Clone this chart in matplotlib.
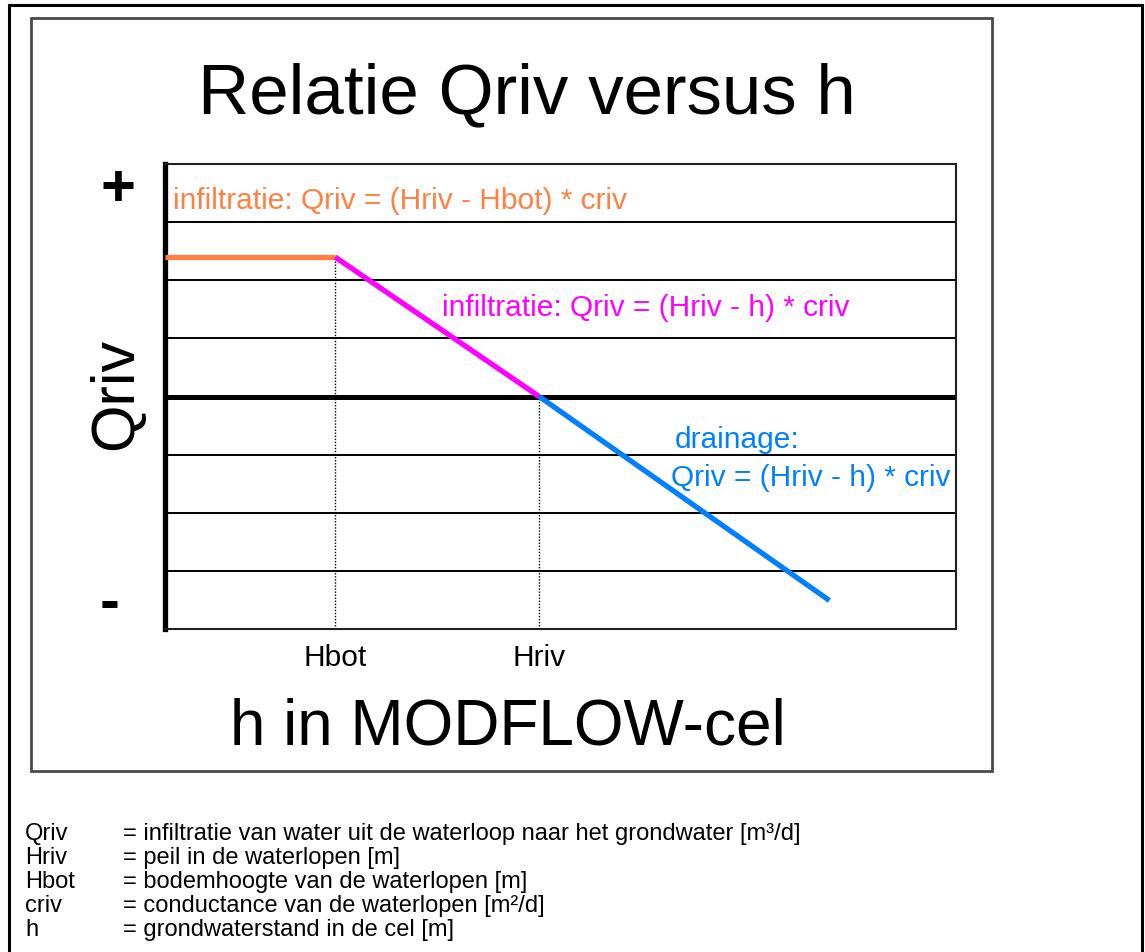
import matplotlib
matplotlib.use('Agg')
import matplotlib.pyplot as plt
from matplotlib.patches import Rectangle

W, H = 1145, 953

# ---- data ----
h_levels = [0.0, 2.15, 4.73, 8.40]
q_values = [2.40, 2.40, 0.0, -3.51]
segment_colors = ['#FF8040', '#FF00FF', '#0080FF']
tick_positions = [2.15, 4.73]
tick_labels = ['Hbot', 'Hriv']
grid_levels = [-3, -2, -1, 1, 2, 3]
annotations = [
    'infiltratie: Qriv = (Hriv - Hbot) * criv',
    'infiltratie: Qriv = (Hriv - h) * criv',
    'drainage:',
    'Qriv = (Hriv - h) * criv',
]
legend_symbols = ['Qriv', 'Hriv', 'Hbot', 'criv', 'h']
legend_texts = [
    '= infiltratie van water uit de waterloop naar het grondwater [m\u00b3/d]',
    '= peil in de waterlopen [m]',
    '= bodemhoogte van de waterlopen [m]',
    '= conductance van de waterlopen [m\u00b2/d]',
    '= grondwaterstand in de cel [m]',
]

plt.rcParams['font.family'] = ['Liberation Sans', 'DejaVu Sans']


def fx(px):
    return px / W


def fy(py):
    return 1 - py / H


fig = plt.figure(figsize=(W / 100, H / 100), dpi=100)

# outer and inner frames
fig.add_artist(Rectangle((fx(9), -0.1), (1142 - 9) / W, fy(5.5) + 0.1,
                         transform=fig.transFigure, fill=False,
                         edgecolor='black', lw=2.2, clip_on=False))
fig.add_artist(Rectangle((fx(31), fy(772)), (992 - 31) / W, (772 - 19) / H,
                         transform=fig.transFigure, fill=False,
                         edgecolor='#4a4a4a', lw=2.0))

ax = fig.add_axes([fx(165), fy(630), 791 / W, 465 / H])
ax.set_xlim(0, 10)
ax.set_ylim(-4, 4)
for side in ['top', 'right', 'bottom']:
    ax.spines[side].set_linewidth(1.5)
    ax.spines[side].set_color('#202020')
ax.spines['left'].set_linewidth(3.8)
ax.spines['left'].set_color('black')

for g in grid_levels:
    ax.axhline(g, color='black', lw=1.4, zorder=1)
ax.axhline(0, color='black', lw=3.6, zorder=1)

# dotted guides
ax.vlines(h_levels[1], -4, q_values[1], colors='black', lw=1.0,
          linestyles=(0, (1, 1.2)), zorder=2)
ax.vlines(h_levels[2], -4, q_values[2], colors='black', lw=1.0,
          linestyles=(0, (1, 1.2)), zorder=2)

for i, c in enumerate(segment_colors):
    ax.plot(h_levels[i:i + 2], q_values[i:i + 2], color=c, lw=3.8,
            solid_capstyle='butt', zorder=3)

ax.set_yticks([])
ax.set_xticks(tick_positions, tick_labels, fontsize=21.5)
ax.tick_params(axis='x', length=0, pad=10)

# titles
fig.text(fx(527), fy(113), 'Relatie Qriv versus h', ha='center',
         va='baseline', fontsize=51)
fig.text(fx(508), fy(745), 'h in MODFLOW-cel', ha='center',
         va='baseline', fontsize=46)
fig.text(fx(132), fy(394), 'Qriv', ha='center', va='baseline',
         rotation=90, rotation_mode='anchor', fontsize=44)
fig.text(fx(118), fy(206), '+', ha='center', va='baseline', fontsize=43,
         fontweight='bold')
fig.text(fx(110), fy(620), '-', ha='center', va='baseline', fontsize=43,
         fontweight='bold')

# annotations
fig.text(fx(173), fy(209), annotations[0], color=segment_colors[0],
         fontsize=21.5, va='baseline')
fig.text(fx(442), fy(316), annotations[1], color=segment_colors[1],
         fontsize=21.5, va='baseline')
fig.text(fx(675), fy(448), annotations[2], color=segment_colors[2],
         fontsize=21.5, va='baseline')
fig.text(fx(671), fy(486), annotations[3], color=segment_colors[2],
         fontsize=21.5, va='baseline')

# footer legend
for k, (s, t) in enumerate(zip(legend_symbols, legend_texts)):
    yb = 840 + 24 * k
    fig.text(fx(25), fy(yb), s, fontsize=17.0, va='baseline')
    fig.text(fx(123), fy(yb), t, fontsize=17.0, va='baseline')

fig.savefig('out.png', dpi=100)
